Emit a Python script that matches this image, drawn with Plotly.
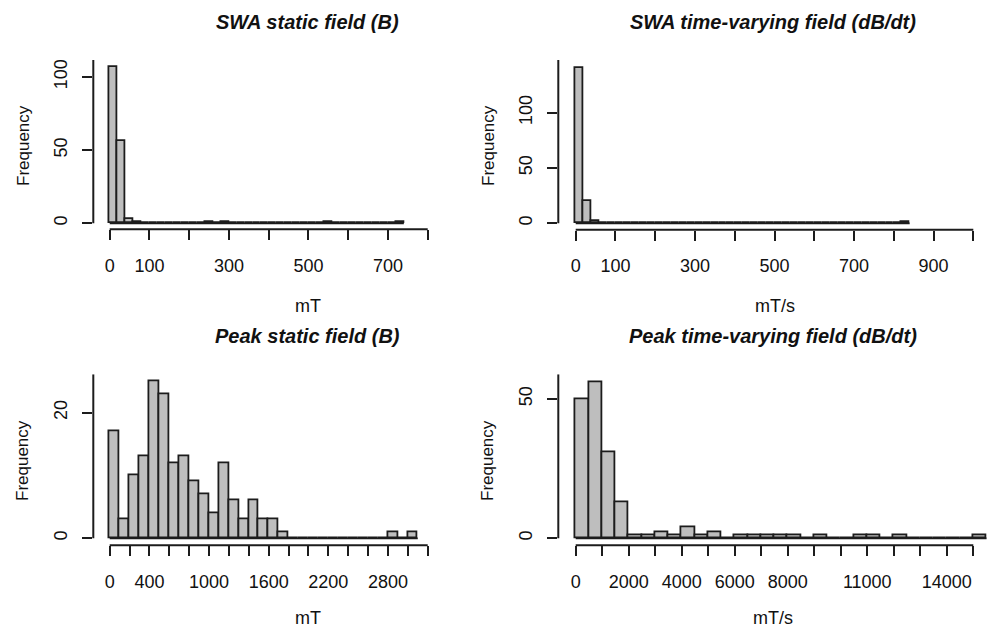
"""Four R-style frequency histograms of static and time-varying field exposure."""

import numpy as np
import plotly.graph_objects as go

W, H = 990, 630

# ---- data -------------------------------------------------------------------
swa_static_start, swa_static_width = 0, 20
swa_static_counts = [107, 56, 3, 1, 0, 0, 0, 0, 0, 0, 0, 0, 1, 0, 1, 0, 0, 0, 0,
                     0, 0, 0, 0, 0, 0, 0, 0, 1, 0, 0, 0, 0, 0, 0, 0, 0, 1]

swa_tv_start, swa_tv_width = 0, 20
swa_tv_counts = [140, 20, 2] + [0] * 38 + [1]

peak_static_start, peak_static_width = 0, 100
peak_static_counts = [17, 3, 10, 13, 25, 23, 12, 13, 9, 7, 4, 12, 6, 3, 6, 3, 3, 1,
                      0, 0, 0, 0, 0, 0, 0, 0, 0, 0, 1, 0, 1]

peak_tv_start, peak_tv_width = 0, 500
peak_tv_counts = [50, 56, 31, 13, 1, 1, 2, 1, 4, 1, 2, 0, 1, 1, 1, 1, 1, 0, 1, 0,
                  0, 1, 1, 0, 1, 0, 0, 0, 0, 0, 1]

titles = ["SWA static field (B)", "SWA time-varying field (dB/dt)",
          "Peak static field (B)", "Peak time-varying field (dB/dt)"]
x_labels = ["mT", "mT/s", "mT", "mT/s"]

x_ticks = [list(range(0, 801, 100)), list(range(0, 1001, 100)),
           list(range(0, 3201, 200)), list(range(0, 15001, 1000))]
x_tick_text = [
    ["0", "100", "", "300", "", "500", "", "700", ""],
    ["0", "100", "", "300", "", "500", "", "700", "", "900", ""],
    ["0", "", "400", "", "", "1000", "", "", "1600", "", "", "2200", "", "",
     "2800", "", ""],
    ["0", "", "2000", "", "4000", "", "6000", "", "8000", "", "", "11000", "",
     "", "14000", ""],
]
y_ticks = [[0, 50, 100], [0, 50, 100], [0, 20], [0, 50]]

# ---- pixel calibration of each panel (value, pixel) pairs + plot box ----------
panels = [
    dict(xcal=(0, 109.7, 800, 427.7), xbox=(93.3, 440),
         ycal=(0, 223.3, 100, 77.0), ybox=(229.3, 60), tx=307, ty=22,
         lx=308, ly=306, fx=23, fy=146),
    dict(xcal=(0, 575.7, 1000, 973.3), xbox=(558.3, 990),
         ycal=(0, 223.3, 100, 112.7), ybox=(229.7, 60), tx=773, ty=22,
         lx=775, ly=306, fx=488, fy=146),
    dict(xcal=(0, 109.7, 3200, 427.7), xbox=(93.3, 440),
         ycal=(0, 538.3, 20, 412.7), ybox=(545.3, 374.3), tx=307, ty=336,
         lx=308, ly=618, fx=23, fy=461),
    dict(xcal=(0, 575.7, 15000, 973.3), xbox=(558.3, 990),
         ycal=(0, 538.3, 50, 399.0), ybox=(545.3, 374.3), tx=773, ty=336,
         lx=773, ly=618, fx=488, fy=461),
]

hist_data = [
    (swa_static_start, swa_static_width, swa_static_counts),
    (swa_tv_start, swa_tv_width, swa_tv_counts),
    (peak_static_start, peak_static_width, peak_static_counts),
    (peak_tv_start, peak_tv_width, peak_tv_counts),
]

INK = "#1c1c1c"
FILL = "#bebebe"
FONT = "Liberation Sans, Arial, sans-serif"


def px_to_value(cal, px):
    v0, p0, v1, p1 = cal
    return v0 + (px - p0) * (v1 - v0) / (p1 - p0)


fig = go.Figure()
shapes, annotations = [], []

for i, (p, (start, width, counts)) in enumerate(zip(panels, hist_data)):
    n = "" if i == 0 else str(i + 1)
    xa, ya = "x" + n, "y" + n

    edges = start + width * np.arange(len(counts) + 1)
    centers = (edges[:-1] + edges[1:]) / 2
    fig.add_trace(go.Bar(
        x=centers, y=counts, width=width, xaxis=xa, yaxis=ya,
        marker=dict(color=FILL, line=dict(color=INK, width=1.8)),
        showlegend=False, hoverinfo="x+y",
    ))

    xr = [px_to_value(p["xcal"], p["xbox"][0]), px_to_value(p["xcal"], p["xbox"][1])]
    yr = [px_to_value(p["ycal"], p["ybox"][0]), px_to_value(p["ycal"], p["ybox"][1])]

    axis_common = dict(showgrid=False, zeroline=False, showline=False,
                       ticks="outside", ticklen=10, tickwidth=2, tickcolor=INK,
                       tickfont=dict(family=FONT, size=18, color="#111"),
                       fixedrange=True)
    fig.layout["xaxis" + n] = dict(
        axis_common, anchor=ya, range=xr,
        domain=[p["xbox"][0] / W, p["xbox"][1] / W],
        tickmode="array", tickvals=x_ticks[i], ticktext=x_tick_text[i],
        ticklabelstandoff=10,
    )
    fig.layout["yaxis" + n] = dict(
        axis_common, anchor=xa, range=yr,
        domain=[1 - p["ybox"][0] / H, 1 - p["ybox"][1] / H],
        tickmode="array", tickvals=y_ticks[i],
        ticktext=[str(v) for v in y_ticks[i]], tickangle=-90,
        ticklabelstandoff=8,
    )

    # R-style detached axis lines
    shapes.append(dict(type="line", xref=xa, yref=ya + " domain",
                       x0=x_ticks[i][0], x1=min(x_ticks[i][-1], xr[1]), y0=0, y1=0,
                       line=dict(color=INK, width=2)))
    shapes.append(dict(type="line", xref=xa + " domain", yref=ya,
                       x0=0, x1=0, y0=0, y1=yr[1],
                       line=dict(color=INK, width=2)))
    # zero-count bins drawn along the baseline, as hist() does
    shapes.append(dict(type="line", xref=xa, yref=ya,
                       x0=edges[0], x1=edges[-1], y0=0, y1=0,
                       line=dict(color=INK, width=1.8)))

    annotations.append(dict(
        text=titles[i], xref="paper", yref="paper", x=p["tx"] / W, y=1 - p["ty"] / H,
        xanchor="center", yanchor="middle", showarrow=False,
        font=dict(family=FONT, size=20, color="#111", weight="bold", style="italic"),
    ))
    annotations.append(dict(
        text=x_labels[i], xref="paper", yref="paper", x=p["lx"] / W, y=1 - p["ly"] / H,
        xanchor="center", yanchor="middle", showarrow=False,
        font=dict(family=FONT, size=18, color="#111"),
    ))
    annotations.append(dict(
        text="Frequency", xref="paper", yref="paper", x=p["fx"] / W, y=1 - p["fy"] / H,
        xanchor="center", yanchor="middle", showarrow=False, textangle=-90,
        font=dict(family=FONT, size=17, color="#111"),
    ))

fig.update_layout(
    width=W, height=H, margin=dict(l=0, r=0, t=0, b=0),
    paper_bgcolor="white", plot_bgcolor="white",
    bargap=0, shapes=shapes, annotations=annotations,
)

# drop the page's default body margin so the figure fills the window exactly
fig.write_html("out.html", config={"displayModeBar": False},
               post_script="document.body.style.margin = '0';")
